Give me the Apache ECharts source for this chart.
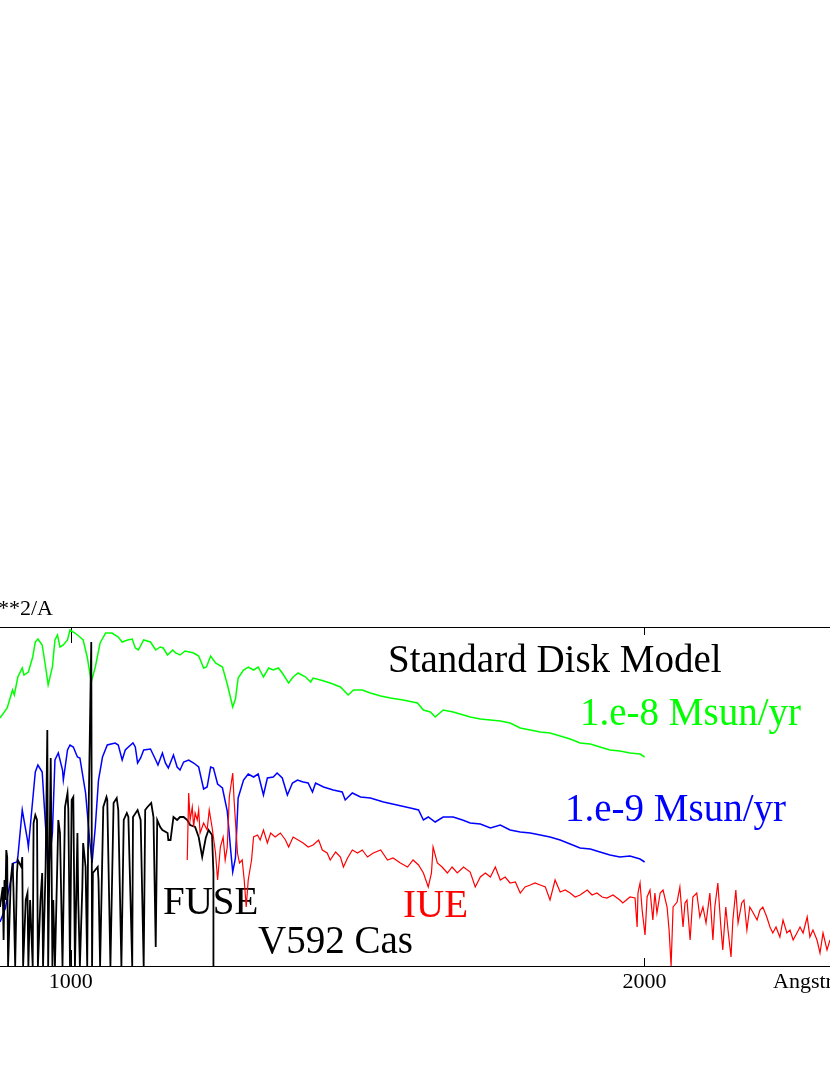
<!DOCTYPE html>
<html>
<head>
<meta charset="utf-8">
<script src="https://cdn.jsdelivr.net/npm/echarts@6/dist/echarts.min.js"></script>
<style>
html, body { margin: 0; padding: 0; background: #fff; }
#chart { width: 830px; height: 1075px; }
</style>
</head>
<body>
<div id="chart"></div>
<script>
// x: wavelength in Angstrom (log scale), y: flux (arbitrary units)
let xMin = 918, xMax = 2502
let yMin = 0, yMax = 3.39
let labelTicks = [1000, 2000]
let majorTicks = [1000]
let minorTicks = [2000]

// standard disk model, 1.e-8 Msun/yr
let model8 = [
  [918,2.48],[926,2.58],[932,2.76],[934,2.71],[938,2.89],[943,2.98],[945,2.91],[950,2.94],
  [955,3.09],[958,3.24],[961,3.27],[966,3.21],[970,2.99],[973,2.81],[978,2.99],[981,3.26],
  [984,3.31],[987,3.19],[991,3.21],[996,3.26],[999,3.36],[1005,3.33],[1011,3.29],[1015,3.26],
  [1020,3.09],[1025,2.84],[1030,2.99],[1036,3.23],[1043,3.33],[1051,3.33],[1059,3.29],[1064,3.24],
  [1071,3.26],[1077,3.27],[1081,3.18],[1085,3.16],[1092,3.26],[1101,3.24],[1108,3.16],[1114,3.19],
  [1118,3.18],[1124,3.11],[1131,3.16],[1135,3.13],[1141,3.11],[1148,3.15],[1160,3.13],[1167,3.10],
  [1174,2.98],[1178,2.99],[1184,3.10],[1191,3.03],[1201,2.99],[1208,2.82],[1216,2.59],[1220,2.67],
  [1224,2.88],[1232,2.96],[1239,2.99],[1247,2.96],[1254,2.99],[1262,2.89],[1270,2.98],[1277,2.96],
  [1285,2.98],[1291,2.93],[1301,2.83],[1308,2.89],[1316,2.93],[1328,2.89],[1336,2.84],[1340,2.88],
  [1352,2.86],[1368,2.83],[1385,2.79],[1398,2.71],[1407,2.76],[1422,2.76],[1436,2.73],[1454,2.70],
  [1471,2.68],[1494,2.66],[1520,2.63],[1531,2.56],[1544,2.54],[1553,2.49],[1568,2.56],[1587,2.54],
  [1607,2.51],[1620,2.49],[1640,2.47],[1660,2.46],[1680,2.45],[1700,2.43],[1721,2.38],[1742,2.36],
  [1763,2.34],[1784,2.33],[1806,2.30],[1828,2.27],[1850,2.23],[1873,2.22],[1895,2.19],[1918,2.16],
  [1941,2.15],[1965,2.13],[1989,2.12],[2000,2.09]
]

// standard disk model, 1.e-9 Msun/yr
let model9 = [
  [918,0.44],[924,0.58],[927,0.73],[932,0.93],[933,1.03],[937,1.04],[938,1.09],[943,1.56],
  [944,1.56],[949,1.26],[950,1.19],[955,1.66],[958,1.94],[961,2.01],[966,1.94],[970,1.39],
  [973,0.93],[978,1.33],[981,2.06],[985,2.13],[990,1.96],[991,1.86],[996,2.16],[999,2.21],
  [1003,2.19],[1008,2.09],[1011,2.08],[1018,1.73],[1023,1.26],[1026,1.03],[1030,1.39],[1034,1.86],
  [1039,2.09],[1045,2.21],[1055,2.23],[1059,2.21],[1064,2.06],[1068,2.16],[1072,2.19],[1078,2.23],
  [1081,2.19],[1084,2.03],[1088,2.08],[1092,2.16],[1101,2.17],[1108,2.06],[1111,2.01],[1117,2.13],
  [1121,2.03],[1125,1.98],[1132,2.11],[1137,1.99],[1141,1.96],[1146,2.04],[1153,2.06],[1160,2.03],
  [1167,1.99],[1174,1.77],[1179,1.79],[1184,1.99],[1188,1.98],[1194,1.82],[1201,1.78],[1208,1.55],
  [1213,1.16],[1216,0.94],[1220,1.08],[1224,1.68],[1232,1.86],[1239,1.92],[1247,1.89],[1254,1.92],
  [1262,1.71],[1268,1.88],[1277,1.89],[1283,1.93],[1291,1.88],[1299,1.71],[1307,1.83],[1315,1.86],
  [1324,1.84],[1332,1.83],[1339,1.74],[1344,1.83],[1357,1.79],[1373,1.76],[1388,1.74],[1393,1.66],
  [1405,1.73],[1419,1.69],[1436,1.68],[1459,1.64],[1483,1.61],[1507,1.58],[1522,1.56],[1531,1.46],
  [1540,1.49],[1553,1.44],[1568,1.49],[1587,1.49],[1605,1.46],[1620,1.43],[1640,1.42],[1660,1.38],
  [1680,1.41],[1700,1.36],[1721,1.34],[1742,1.33],[1763,1.31],[1784,1.29],[1806,1.26],[1828,1.22],
  [1850,1.18],[1873,1.17],[1895,1.14],[1918,1.11],[1941,1.09],[1965,1.10],[1989,1.07],[2000,1.04]
]

// V592 Cas, FUSE
let fuse = [
  [918,0.59],[921,0.79],[922,0.26],[923,0.86],[924,0.66],[925,1.16],[926,1.09],[927,0.00],
  [930,0.86],[932,1.03],[933,0.79],[935,0.00],[937,0.93],[938,1.06],[942,0.99],[943,1.09],
  [944,0.00],[947,0.66],[949,0.73],[950,0.00],[952,0.66],[955,0.00],[956,1.43],[958,1.51],
  [960,1.46],[961,0.00],[964,0.66],[966,0.93],[967,0.00],[970,0.99],[972,2.36],[973,0.00],
  [976,2.08],[978,0.00],[979,0.66],[981,0.00],[985,1.46],[987,1.33],[990,0.00],[993,1.59],
  [996,1.73],[997,1.56],[999,0.00],[1001,1.66],[1003,1.69],[1005,0.00],[1008,1.33],[1009,0.66],
  [1011,0.00],[1014,0.79],[1015,1.23],[1018,0.99],[1020,0.00],[1021,1.16],[1025,3.24],[1026,0.00],
  [1027,0.93],[1033,0.99],[1034,0.86],[1036,0.00],[1040,1.59],[1044,1.69],[1045,1.66],[1049,0.00],
  [1053,1.63],[1057,1.68],[1059,1.56],[1063,0.00],[1066,1.46],[1070,1.53],[1072,1.49],[1077,0.00],
  [1078,1.49],[1084,1.56],[1088,1.46],[1092,0.00],[1094,1.56],[1097,1.59],[1102,1.63],[1105,1.49],
  [1108,0.19],[1110,1.46],[1114,1.39],[1117,1.36],[1124,1.33],[1125,1.26],[1128,1.26],[1132,1.49],
  [1137,1.46],[1141,1.49],[1146,1.49],[1151,1.46],[1155,1.41],[1162,1.39],[1167,1.29],[1172,1.09],
  [1177,1.28],[1181,1.36],[1186,1.31],[1188,0.93],[1188,0.00]
]

// V592 Cas, IUE
let iue = [
  [1151,1.06],[1153,1.73],[1155,1.46],[1158,1.59],[1160,1.39],[1162,1.53],[1165,1.46],[1167,1.56],
  [1169,1.33],[1174,1.43],[1179,1.36],[1182,1.56],[1186,1.39],[1191,1.13],[1194,0.86],[1198,1.19],
  [1202,1.29],[1205,1.06],[1208,1.19],[1211,1.69],[1216,1.93],[1218,1.66],[1223,1.13],[1226,1.03],
  [1230,1.06],[1233,0.86],[1236,0.59],[1239,0.86],[1244,1.06],[1247,1.29],[1253,1.31],[1257,1.26],
  [1262,1.36],[1268,1.23],[1273,1.33],[1280,1.29],[1288,1.33],[1296,1.26],[1301,1.19],[1308,1.29],
  [1316,1.26],[1324,1.23],[1332,1.19],[1340,1.21],[1349,1.26],[1355,1.16],[1363,1.13],[1368,1.06],
  [1377,1.14],[1385,1.09],[1390,0.99],[1397,1.08],[1405,1.16],[1414,1.13],[1422,1.16],[1431,1.09],
  [1441,1.13],[1454,1.16],[1466,1.06],[1476,1.08],[1489,1.03],[1502,0.99],[1512,1.06],[1522,1.01],
  [1531,0.93],[1540,0.79],[1546,0.93],[1549,1.19],[1557,1.03],[1566,0.99],[1576,0.93],[1585,0.99],
  [1595,0.93],[1607,0.99],[1620,0.94],[1630,0.79],[1640,0.89],[1650,0.93],[1660,0.89],[1670,0.99],
  [1680,0.86],[1690,0.89],[1700,0.83],[1711,0.84],[1721,0.73],[1731,0.79],[1742,0.81],[1752,0.83],
  [1763,0.81],[1774,0.79],[1784,0.66],[1795,0.86],[1806,0.74],[1817,0.76],[1828,0.73],[1839,0.69],
  [1850,0.71],[1866,0.76],[1877,0.71],[1888,0.73],[1900,0.69],[1911,0.68],[1925,0.71],[1941,0.66],
  [1948,0.63],[1965,0.69],[1977,0.68],[1982,0.39],[1984,0.73],[1989,0.83],[1994,0.56],[2001,0.31],
  [2006,0.69],[2013,0.76],[2020,0.46],[2025,0.73],[2030,0.53],[2038,0.73],[2045,0.76],[2055,0.59],
  [2060,0.36],[2065,0.00],[2070,0.59],[2080,0.64],[2087,0.79],[2095,0.39],[2100,0.63],[2105,0.66],
  [2113,0.26],[2120,0.69],[2130,0.73],[2138,0.49],[2146,0.59],[2154,0.43],[2164,0.73],[2172,0.26],
  [2177,0.59],[2185,0.83],[2193,0.39],[2198,0.16],[2206,0.59],[2212,0.36],[2220,0.09],[2225,0.46],
  [2233,0.76],[2239,0.43],[2249,0.63],[2255,0.66],[2263,0.36],[2271,0.59],[2279,0.54],[2291,0.46],
  [2299,0.56],[2307,0.59],[2318,0.49],[2327,0.39],[2335,0.33],[2344,0.39],[2355,0.29],[2364,0.46],
  [2375,0.33],[2384,0.36],[2393,0.26],[2404,0.33],[2413,0.39],[2422,0.33],[2434,0.49],[2442,0.29],
  [2451,0.36],[2463,0.26],[2472,0.13],[2481,0.33],[2493,0.16],[2502,0.26]
]

let serif = '"Liberation Serif", "DejaVu Serif", serif'

function xAxisCfg(position, ticks, tickLen, showLine, labels) {
  return {
    type: 'log',
    logBase: 10,
    min: xMin,
    max: xMax,
    position: position,
    axisLine: { show: showLine, lineStyle: { color: '#000', width: 1.2 } },
    axisTick: { show: true, inside: true, length: tickLen, customValues: ticks, lineStyle: { color: '#000', width: 1 } },
    axisLabel: labels ? {
      show: true,
      customValues: labels,
      margin: 5,
      color: '#000',
      fontFamily: serif,
      fontSize: 22,
      formatter: (v) => String(Math.round(v))
    } : { show: false },
    splitLine: { show: false },
    minorTick: { show: false }
  }
}

function label(text, x, y, size, color, align) {
  return {
    type: 'text',
    x: x,
    y: y,
    silent: true,
    style: {
      text: text,
      fill: color,
      font: size + 'px ' + serif,
      align: align || 'left',
      verticalAlign: 'middle'
    }
  }
}

function line(name, data, color, width) {
  return {
    name: name,
    type: 'line',
    data: data,
    showSymbol: false,
    symbol: 'none',
    clip: true,
    lineStyle: { color: color, width: width, join: 'miter' },
    animation: false
  }
}

let chart = echarts.init(document.getElementById('chart'))
chart.setOption({
  backgroundColor: '#fff',
  animation: false,
  grid: { left: 0, right: 0, top: 627, bottom: 109, containLabel: false },
  xAxis: [
    xAxisCfg('bottom', majorTicks, 16, true, labelTicks),
    xAxisCfg('bottom', minorTicks, 8, false, null),
    xAxisCfg('top', majorTicks, 16, true, null),
    xAxisCfg('top', minorTicks, 8, false, null)
  ],
  yAxis: { type: 'value', min: yMin, max: yMax, show: false },
  series: [
    line('1.e-8 Msun/yr', model8, '#00ff00', 1.5),
    line('1.e-9 Msun/yr', model9, '#0000ff', 1.5),
    line('FUSE', fuse, '#000000', 1.8),
    line('IUE', iue, '#ff0000', 1.2)
  ],
  graphic: [
    label('**2/A', 53, 609, 22, '#000', 'right'),
    label('Standard Disk Model', 388, 662, 39, '#000'),
    label('1.e-8 Msun/yr', 580, 715, 39, '#00ff00'),
    label('1.e-9 Msun/yr', 565, 811, 39, '#0000ff'),
    label('FUSE', 163, 904, 39, '#000'),
    label('IUE', 403, 907, 39, '#ff0000'),
    label('V592 Cas', 258, 943, 39, '#000'),
    label('Angstrom', 773, 982, 22, '#000')
  ]
})
</script>
</body>
</html>
